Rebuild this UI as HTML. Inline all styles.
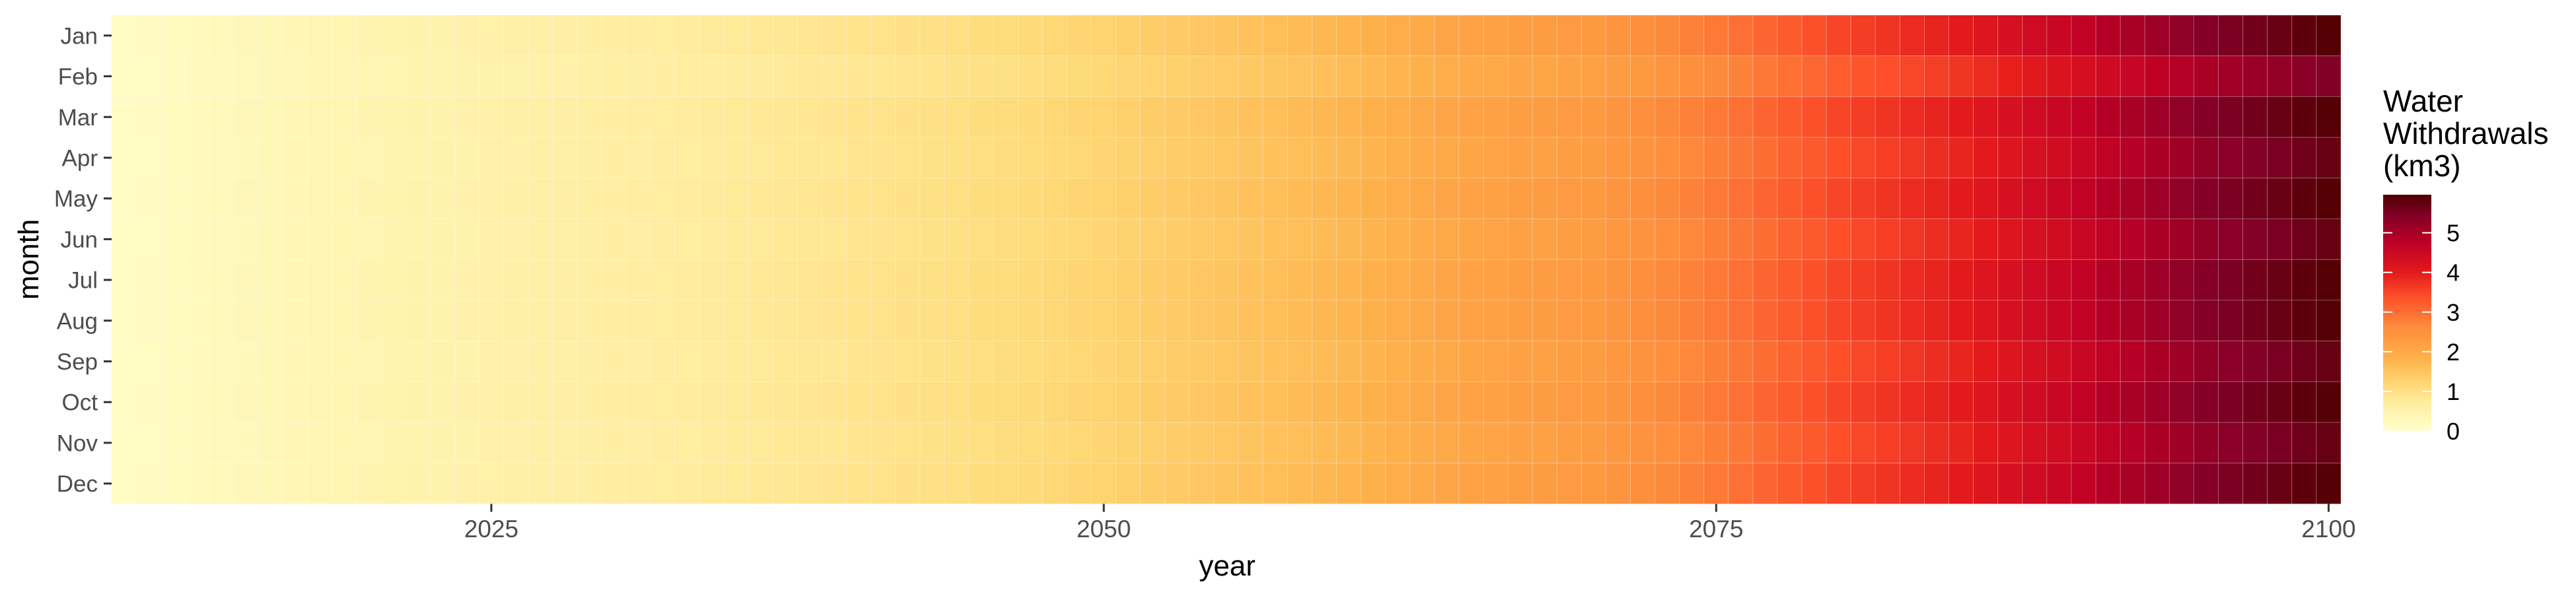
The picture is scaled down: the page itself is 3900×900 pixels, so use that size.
<!DOCTYPE html>
<html><head><meta charset="utf-8">
<style>
html,body{margin:0;padding:0;background:#fff;}
svg{display:block;font-family:"Liberation Sans",Arial,sans-serif;}
</style></head>
<body>
<svg id="chart" width="3900" height="900" viewBox="0 0 3900 900" xmlns="http://www.w3.org/2000/svg">
  <defs>
    <linearGradient id="legGrad" x1="0" y1="1" x2="0" y2="0"></linearGradient>
  </defs>
  <g id="cells"></g>
  <g id="xaxis"></g>
  <g id="yaxis"></g>
  <text x="1858" y="872" font-size="44" text-anchor="middle" fill="#000">year</text>
  <text transform="translate(58,393) rotate(-90)" font-size="44" text-anchor="middle" fill="#000">month</text>
  <g id="legend">
    <text x="3608" y="169" font-size="46" fill="#000">Water</text>
    <text x="3608" y="218" font-size="46" fill="#000">Withdrawals</text>
    <text x="3608" y="267" font-size="46" fill="#000">(km3)</text>
  </g>
</svg>
<script>
const years = [];
for (let y = 2010; y <= 2100; y++) years.push(y);
const months = ["Jan","Feb","Mar","Apr","May","Jun","Jul","Aug","Sep","Oct","Nov","Dec"];
const annualValues = [
0.15,0.18,0.21,0.24,0.27,0.30,0.33,0.36,0.39,0.42,
0.45,0.47,0.49,0.51,0.53,0.55,0.57,0.59,0.61,0.63,
0.65,0.67,0.70,0.72,0.75,0.77,0.80,0.82,0.85,0.87,
0.90,0.93,0.96,0.99,1.02,1.05,1.09,1.13,1.17,1.21,
1.25,1.30,1.35,1.40,1.45,1.50,1.55,1.60,1.65,1.70,
1.75,1.83,1.91,1.99,2.07,2.15,2.19,2.23,2.27,2.31,
2.35,2.45,2.55,2.65,2.75,2.85,2.98,3.11,3.24,3.37,
3.50,3.60,3.70,3.80,3.90,4.00,4.14,4.28,4.42,4.56,
4.70,4.84,4.98,5.12,5.26,5.40,5.50,5.60,5.70,5.80,
5.90];
const monthFactors = [1,0.92,1,0.968,1,0.968,1,1,0.968,1,0.968,1];
const xTicks = [2025,2050,2075,2100];
const legendTicks = [0,1,2,3,4,5];

const NS = "http://www.w3.org/2000/svg";
const px0 = 169, px1 = 3544, py0 = 23, py1 = 763.5;
const yearMin = years[0] - 0.5, yearMax = years[years.length-1] + 0.5;
const xScale = v => px0 + (v - yearMin) / (yearMax - yearMin) * (px1 - px0);
const rowH = (py1 - py0) / months.length;
const yScale = i => py0 + i * rowH;
const vMax = 5.96;
const stops = [[0,"#FFFFCC"],[0.7,"#FFEDA0"],[1.15,"#FED976"],[1.8,"#FEB24C"],[2.6,"#FD8D3C"],[3.4,"#FC4E2A"],[4.0,"#E31A1C"],[4.75,"#BD0026"],[5.45,"#800026"],[5.96,"#4F0000"]];
function hex(c){return [1,3,5].map(i=>parseInt(c.substr(i,2),16));}
function color(v){
  if (v <= stops[0][0]) return stops[0][1];
  for (let i=1;i<stops.length;i++){
    if (v <= stops[i][0]){
      const t=(v-stops[i-1][0])/(stops[i][0]-stops[i-1][0]);
      const a=hex(stops[i-1][1]), b=hex(stops[i][1]);
      return "rgb("+a.map((x,k)=>Math.round(x+(b[k]-x)*t)).join(",")+")";
    }
  }
  return stops[stops.length-1][1];
}
function mk(tag, attrs, parent){const e=document.createElementNS(NS,tag);for(const k in attrs)e.setAttribute(k,attrs[k]);parent.appendChild(e);return e;}

const cells = document.getElementById("cells");
const cw = xScale(years[0]+0.5) - xScale(years[0]-0.5);
months.forEach((m, i) => {
  years.forEach((yr, j) => {
    const v = annualValues[j] * monthFactors[i];
    const r = mk("rect", {x: xScale(yr-0.5), y: yScale(i), width: cw, height: rowH, fill: color(v), stroke: "rgba(255,255,255,0.22)", "stroke-width": 1}, cells);
    
    
  });
});

const xa = document.getElementById("xaxis");
xTicks.forEach(t => {
  const x = xScale(t);
  const l = mk("line", {x1:x, x2:x, y1:py1, y2:py1+12, stroke:"#333", "stroke-width":3}, xa);
  
  
  const tx = mk("text", {x:x, y:814, "font-size":37, "text-anchor":"middle", fill:"#4d4d4d"}, xa);
  tx.textContent = t;
  
  
});

const ya = document.getElementById("yaxis");
months.forEach((m, i) => {
  const y = yScale(i) + rowH/2;
  const l = mk("line", {x1:157, x2:169, y1:y, y2:y, stroke:"#333", "stroke-width":3}, ya);
  
  
  const tx = mk("text", {x:148, y:y+12.5, "font-size":35, "text-anchor":"end", fill:"#4d4d4d"}, ya);
  tx.textContent = m;
  
  
});

// legend
const grad = document.getElementById("legGrad");
stops.forEach(s => { mk("stop", {offset: (s[0]/vMax), "stop-color": s[1]}, grad); });
const leg = document.getElementById("legend");
const lx0 = 3608, lx1 = 3681, lyBottom = 653, lyTop = 295;
const lScale = v => lyBottom - v / vMax * (lyBottom - lyTop);
const bar = mk("rect", {x:lx0, y:lyTop, width:lx1-lx0, height:lyBottom-lyTop, fill:"url(#legGrad)"}, leg);


legendTicks.forEach(t => {
  const y = lScale(t);
  const a = mk("line", {x1:lx0, x2:lx0+14, y1:y, y2:y, stroke:"#fff", "stroke-width":2}, leg);
  
  
  const b = mk("line", {x1:lx1-14, x2:lx1, y1:y, y2:y, stroke:"#fff", "stroke-width":2}, leg);
  
  
  const tx = mk("text", {x:3704, y:y+13, "font-size":36, fill:"#000"}, leg);
  tx.textContent = t;
  
  
});
</script>
</body></html>
